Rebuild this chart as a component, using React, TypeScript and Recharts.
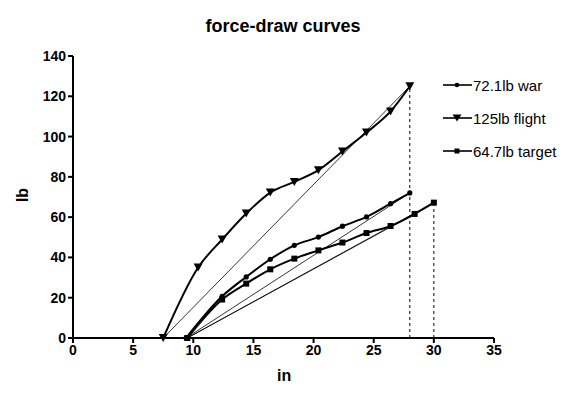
import { LineChart, Line, XAxis, YAxis } from 'recharts';

const xTicks = [0, 5, 10, 15, 20, 25, 30, 35];
const yTicks = [0, 20, 40, 60, 80, 100, 120, 140];

const warX = [9.4, 12.4, 14.4, 16.4, 18.4, 20.4, 22.4, 24.4, 26.4, 28];
const warY = [0, 20.7, 30.3, 39.1, 46, 50.1, 55.5, 60.1, 66.7, 72];

const flightX = [7.5, 10.4, 12.4, 14.4, 16.4, 18.4, 20.4, 22.4, 24.4, 26.4, 28];
const flightY = [0, 35, 48.9, 61.8, 72.2, 77.5, 83.3, 92.6, 102, 112.5, 125];

const targetX = [9.5, 12.4, 14.4, 16.4, 18.4, 20.4, 22.4, 24.4, 26.4, 28.4, 30];
const targetY = [0, 19.1, 27, 34.1, 39.4, 43.5, 47.4, 52.1, 55.6, 61.6, 67.2];

const toPts = (xs: number[], ys: number[]) => xs.map((x, i) => ({ x, y: ys[i] }));

const war = toPts(warX, warY);
const flight = toPts(flightX, flightY);
const target = toPts(targetX, targetY);

// straight chords from start to end of each curve
const chords = [
  [war[0], war[war.length - 1]],
  [flight[0], flight[flight.length - 1]],
  [target[0], target[target.length - 2]],
  [target[0], target[target.length - 1]],
];

// dashed drops at the end of draw
const drops = [
  [{ x: 28, y: 0 }, { x: 28, y: 125 }],
  [{ x: 30, y: 0 }, { x: 30, y: 67.2 }],
];

const font = '"Liberation Sans", Arial, sans-serif';

const circleDot = (p: any) => (
  <circle key={`c${p.index}`} cx={p.cx} cy={p.cy} r={2.6} fill="#000" />
);
const squareDot = (p: any) => (
  <rect key={`s${p.index}`} x={p.cx - 3} y={p.cy - 3} width={6} height={6} fill="#000" />
);
const triDot = (p: any) => (
  <path
    key={`t${p.index}`}
    d={`M${p.cx - 4.5},${p.cy - 4} L${p.cx + 4.5},${p.cy - 4} L${p.cx},${p.cy + 4} Z`}
    fill="#000"
  />
);

const legendItems = [
  { label: '72.1lb war', marker: 'circle' },
  { label: '125lb flight', marker: 'tri' },
  { label: '64.7lb target', marker: 'square' },
];

function LegendBox() {
  return (
    <svg width={140} height={90} style={{ position: 'absolute', left: 436, top: 70 }}>
      {legendItems.map((it, i) => {
        const y = 15 + i * 33;
        return (
          <g key={it.label}>
            <line x1={7} x2={36} y1={y} y2={y} stroke="#000" strokeWidth={1.6} />
            {it.marker === 'circle' && <circle cx={21} cy={y} r={2.3} fill="#000" />}
            {it.marker === 'square' && <rect x={18.5} y={y - 2.5} width={5} height={5} fill="#000" />}
            {it.marker === 'tri' && <path d={`M${16.5},${y - 3.5} L${25.5},${y - 3.5} L21,${y + 3.5} Z`} fill="#000" />}
            <text x={37} y={y + 5.5} fontSize={15} fontFamily={font} fill="#000">
              {it.label}
            </text>
          </g>
        );
      })}
    </svg>
  );
}

export default function App() {
  const tick = { fill: '#000', fontSize: 14, fontWeight: 'bold', fontFamily: font };
  return (
    <div style={{ position: 'relative', width: 576, height: 399, margin: -8, background: '#fff', fontFamily: font }}>
      <div style={{ position: 'absolute', left: 0, width: 566, top: 16, textAlign: 'center', fontWeight: 'bold', fontSize: 18 }}>
        force-draw curves
      </div>
      <div style={{ position: 'absolute', left: 277, top: 367, fontWeight: 'bold', fontSize: 16 }}>in</div>
      <div
        style={{
          position: 'absolute',
          left: 16,
          top: 186,
          fontWeight: 'bold',
          fontSize: 16,
          transform: 'rotate(-90deg)',
        }}
      >
        lb
      </div>
      <LineChart width={576} height={399} margin={{ top: 56, right: 82, bottom: 31, left: 13 }}>
        <XAxis
          type="number"
          dataKey="x"
          domain={[0, 35]}
          ticks={xTicks}
          allowDuplicatedCategory={false}
          stroke="#000"
          strokeWidth={2}
          tickSize={5}
          tick={tick}
          height={30}
        />
        <YAxis
          type="number"
          dataKey="y"
          domain={[0, 140]}
          ticks={yTicks}
          stroke="#000"
          strokeWidth={2}
          tickSize={5}
          tick={tick}
          width={60}
        />
        {chords.map((c, i) => (
          <Line
            key={`chord${i}`}
            data={c}
            dataKey="y"
            type="linear"
            stroke="#000"
            strokeWidth={0.8}
            dot={false}
            isAnimationActive={false}
          />
        ))}
        {drops.map((d, i) => (
          <Line
            key={`drop${i}`}
            data={d}
            dataKey="y"
            type="linear"
            stroke="#000"
            strokeWidth={1}
            strokeDasharray="3 3"
            dot={false}
            isAnimationActive={false}
          />
        ))}
        <Line data={war} dataKey="y" name="72.1lb war" type="monotone" stroke="#000" strokeWidth={2} dot={circleDot} isAnimationActive={false} />
        <Line data={flight} dataKey="y" name="125lb flight" type="monotone" stroke="#000" strokeWidth={2} dot={triDot} isAnimationActive={false} />
        <Line data={target} dataKey="y" name="64.7lb target" type="monotone" stroke="#000" strokeWidth={2} dot={squareDot} isAnimationActive={false} />
      </LineChart>
      <LegendBox />
    </div>
  );
}
